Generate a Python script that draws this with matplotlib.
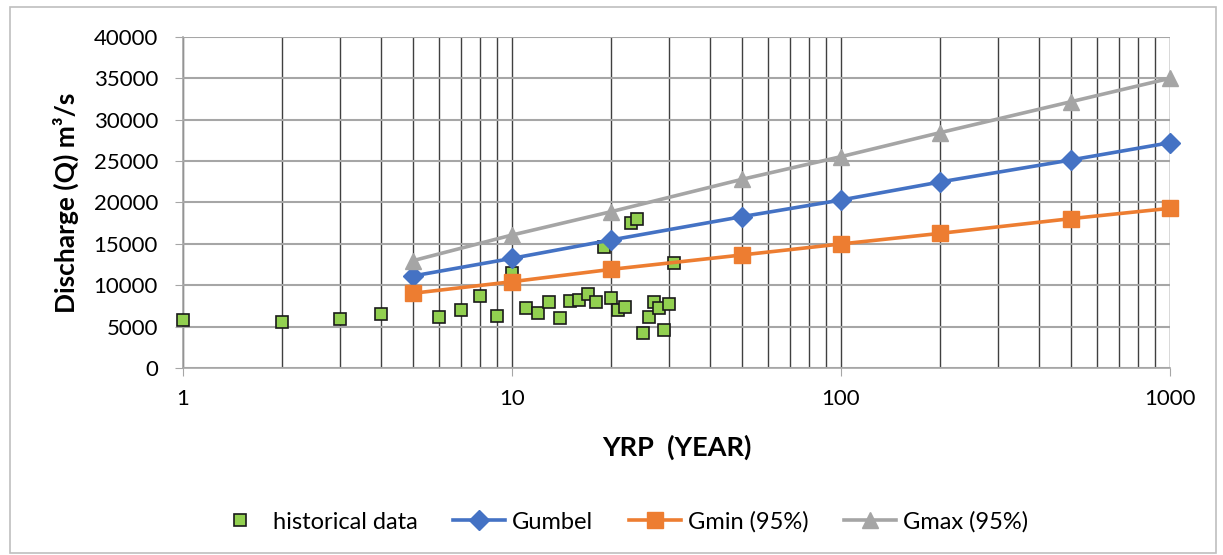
import matplotlib
matplotlib.use("Agg")
import matplotlib.pyplot as plt
from matplotlib.ticker import LogLocator, FixedLocator, NullFormatter
from matplotlib.patches import Rectangle

# ---- data ----
hist_T = [1, 2, 3, 4, 5, 6, 7, 8, 9, 10, 11, 12, 13, 14, 15, 16, 17, 18, 19, 20,
          21, 22, 23, 24, 25, 26, 27, 28, 29, 30, 31]
hist_Q = [5800, 5600, 5880, 6490, 9000, 6130, 7010, 8700, 6320, 11440, 7210, 6600,
          7975, 6040, 8130, 8250, 8980, 7935, 14660, 8500, 7010, 7410, 17480, 17970,
          4190, 6130, 7935, 7210, 4550, 7700, 12650]

T = [5, 10, 20, 50, 100, 200, 500, 1000]
gumbel = [11120, 13250, 15470, 18290, 20300, 22480, 25140, 27230]
gmin = [9030, 10430, 11920, 13660, 14990, 16270, 18050, 19300]
gmax = [12970, 16070, 18890, 22800, 25540, 28440, 32180, 35010]

x_ticks = [1, 10, 100, 1000]
x_ticklabels = ["1", "10", "100", "1000"]
y_ticks = [0, 5000, 10000, 15000, 20000, 25000, 30000, 35000, 40000]

plt.rcParams['font.family'] = ['Lato', 'DejaVu Sans']

W, H = 1223, 555
fig = plt.figure(figsize=(W / 100, H / 100), dpi=100)
ax = fig.add_axes([183 / W, 1 - 368 / H, (1170 - 183) / W, (368 - 37) / H])

# outer chart border
fig.patches.append(Rectangle((10 / W, 2 / H), (1216 - 10) / W, (548 - 2) / H,
                             transform=fig.transFigure, fill=False,
                             edgecolor='#BFBFBF', linewidth=1.2))

ax.set_xscale('log')
ax.set_xlim(1, 1000)
ax.set_ylim(0, 40000)

# gridlines
ax.xaxis.set_major_locator(FixedLocator(x_ticks))
ax.xaxis.set_minor_locator(LogLocator(base=10, subs=range(2, 10)))
ax.xaxis.set_minor_formatter(NullFormatter())
ax.set_xticklabels(x_ticklabels)
ax.set_yticks(y_ticks)
ax.set_yticklabels([str(v) for v in y_ticks])
ax.grid(True, axis='x', which='both', color='#404040', linewidth=1.0, zorder=0)
ax.grid(True, axis='y', which='major', color='#A6A6A6', linewidth=1.5, zorder=0)
ax.set_axisbelow(True)

for s in ['top', 'right']:
    ax.spines[s].set_visible(False)
for s in ['left', 'bottom']:
    ax.spines[s].set_color('#A6A6A6')
    ax.spines[s].set_linewidth(1.2)

ax.tick_params(axis='x', which='major', length=6, color='#A6A6A6', labelsize=16, pad=9)
ax.tick_params(axis='x', which='minor', length=0)
ax.tick_params(axis='y', which='major', length=6, color='#A6A6A6', labelsize=16, pad=12)

ax.plot(hist_T, hist_Q, linestyle='none', marker='s', markersize=8,
        markerfacecolor='#92D050', markeredgecolor='#1A1A1A', markeredgewidth=1.2,
        label='historical data', zorder=3, clip_on=False)
ax.plot(T, gumbel, color='#4472C4', linewidth=2.6, marker='D', markersize=10,
        label='Gumbel', zorder=4, clip_on=False)
ax.plot(T, gmin, color='#ED7D31', linewidth=2.6, marker='s', markersize=12,
        label='Gmin (95%)', zorder=4, clip_on=False)
ax.plot(T, gmax, color='#A5A5A5', linewidth=2.6, marker='^', markersize=12,
        label='Gmax (95%)', zorder=4, clip_on=False)

ax.set_ylabel('Discharge (Q) m³/s', fontsize=19, fontweight='bold')
ax.yaxis.set_label_coords((66 - 183) / (1170 - 183), 0.5)
ax.set_xlabel('YRP  (YEAR)', fontsize=19.5, fontweight='bold')
ax.xaxis.set_label_coords((677 - 183) / (1170 - 183), (368 - 447) / (368 - 37))
ax.xaxis.label.set_va('center')
ax.yaxis.label.set_va('center')

fig.legend(loc='center', bbox_to_anchor=(621 / W, 1 - 522 / H), ncol=4,
           frameon=False, fontsize=17, handlelength=2.2, columnspacing=1.5,
           handletextpad=0.3)

fig.savefig('out.png', dpi=100)
